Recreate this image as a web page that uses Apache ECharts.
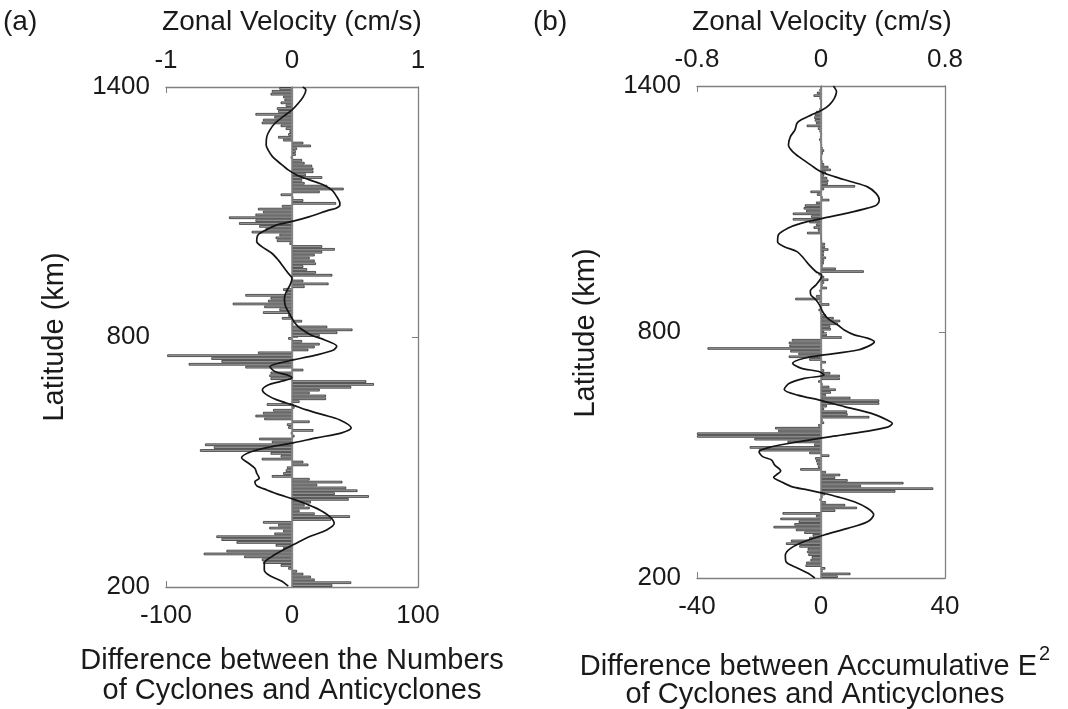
<!DOCTYPE html>
<html><head><meta charset="utf-8">
<script src="https://cdn.jsdelivr.net/npm/echarts@6/dist/echarts.min.js"></script>
<style>html,body{margin:0;padding:0;background:#fff}#c{width:1068px;height:709px}</style>
</head><body><div id="c"></div>
<script>
// ---------- DATA ----------
const latTicks = [200, 800, 1400];
// Panel (a): difference between numbers of cyclones and anticyclones, bins listed from 1400 km (top) down to 200 km
const barsA = [
  -10,-16,-17,-7,-6,-9,-5,-12,-11,-29,-14,-23,-24,-9,-5,-2,-3,-11,-7,9,15,4,3,3,-1,8,10,16,17,17,11,24,8,10,28,41,22,-9,1,9,35,-8,-27,
  -23,-29,-50,-29,-42,-26,-21,-32,-10,-13,-12,-2,24,34,24,18,14,18,19,9,12,19,32,0,9,29,10,-7,-4,-37,-17,-19,-47,-22,-10,-23,-3,-8,8,1,28,48,36,22,
  -3,8,22,18,13,-27,-99,-64,-56,-82,-37,9,-17,-18,-17,59,65,47,22,14,27,27,6,-20,2,-15,-23,-29,-22,14,-4,-3,17,-1,2,-26,-16,-69,-62,-73,-17,
  -9,-24,9,13,-4,-5,-7,-16,14,40,20,43,52,34,61,45,15,10,14,6,18,46,31,-23,-11,-18,-7,-14,-60,-56,-44,-13,-7,-52,-70,-38,-24,-23,-9,-3,4,9,15,18,47,32
];
// Panel (b): difference between accumulative E^2, bins from 1400 km (top) down to 200 km
const barsB = [
  0,-0.5,-1.3,-2.4,-0.5,0,0,0,-0.5,-1.6,-2,-2.2,-2,-1.6,-4.6,-1,-0.5,0,-0.3,-0.6,-0.3,0.3,0.5,1,0.6,0.2,0,0.5,1,2.4,3.2,1.6,1,2,2.4,2.2,11,1,-3.4,-1.3,0.5,2.7,-1.6,-5.2,-5.6,
  -4.8,-9.1,-3.2,-9.1,-3.8,-1.6,-2.4,-1,-4.5,0,0,0.3,1.3,1.3,2.4,1,0.9,1.6,1,0.9,0.5,4.8,13.8,-0.8,1,2.4,1,0.5,1.9,-0.5,-0.3,-1.6,-8.3,-0.5,2.7,-0.3,-0.8,-0.3,1.6,4.1,6.2,5.4,3,3.2,
  1,1.9,6.7,-9.4,-10.4,-10.2,-36.6,-9.9,-7.3,-10.4,-3.8,1.6,0,0.3,1,3,6.1,6.1,-0.9,0.5,2.7,4.8,3.2,1.6,9.5,18.8,18.8,1.9,1,8.4,8.6,15.6,0.5,1,-0.9,-14.8,-13.8,-40,-40,-21.5,-10.8,-2.2,-23,-20,-3.8,2.7,
  -1.9,-1.6,-1.3,-1,-6.7,1.6,6.2,4.6,8.6,26.6,12.9,36.2,24,1.3,0.5,-0.5,1.6,7.8,11.6,4.6,-12.4,-1.6,-13.1,-7.2,-8.6,-15.3,-8.1,-5.4,-2.7,-3.8,-9.7,-11.3,-7,-4.3,-4.5,-4.1,-3,-3.4,-4.8,-5,1.4,0.5,9.5,5.4
];
// Zonal velocity profiles (cm/s) at latitudes (km)
const velLatA = [1400,1393,1377,1361,1345,1329,1313,1297,1281,1261,1249,1233,1217,1201,1189,1177,1165,1153,1137,1121,1117,1109,1105,1089,1078,1069,1057,1045,1029,1017,1001,985,969,953,941,925,909,893,877,861,845,833,821,805,793,778,769,757,745,738,729,717,709,702,693,685,673,661,649,637,625,613,601,582,570,558,546,536,524,510,497,485,473,461,453,443,433,421,411,399,385,369,353,337,321,305,289,273,257,241,227,214,202];
const velA = [0.085,0.11,0.09,0.05,0.0,-0.07,-0.135,-0.175,-0.2,-0.205,-0.19,-0.155,-0.095,-0.03,0.037,0.14,0.25,0.315,0.355,0.38,0.38,0.35,0.3,0.14,0.01,-0.12,-0.205,-0.27,-0.28,-0.24,-0.16,-0.11,-0.07,-0.03,0.0,-0.015,-0.045,-0.06,-0.055,-0.03,0.0,0.025,0.065,0.15,0.26,0.355,0.33,0.195,0.01,-0.095,-0.175,-0.135,-0.04,0.0,-0.095,-0.19,-0.235,-0.2,-0.12,0.005,0.115,0.25,0.38,0.47,0.395,0.195,0.01,-0.175,-0.33,-0.4,-0.345,-0.295,-0.28,-0.26,-0.295,-0.28,-0.2,-0.095,0.01,0.115,0.22,0.3,0.335,0.275,0.14,0.035,-0.07,-0.16,-0.22,-0.22,-0.175,-0.08,-0.03];
const velLatB = [1400,1386,1370,1354,1342,1329,1317,1309,1293,1276,1256,1240,1224,1207,1191,1179,1167,1154,1138,1122,1110,1102,1090,1077,1065,1053,1037,1020,1008,996,980,963,947,939,931,915,900,890,878,866,850,833,817,805,793,785,776,768,756,744,736,724,712,703,695,687,675,660,646,634,618,602,585,577,568,557,545,532,520,508,496,488,476,461,451,446,435,423,415,407,398,386,370,354,337,321,305,289,273,256,240,224,212,200];
const velB = [0.08,0.10,0.086,0.054,0.01,-0.065,-0.13,-0.155,-0.168,-0.198,-0.21,-0.183,-0.13,-0.065,0,0.086,0.19,0.3,0.355,0.376,0.36,0.30,0.17,0.01,-0.13,-0.215,-0.275,-0.28,-0.237,-0.155,-0.112,-0.075,-0.032,0.004,0,-0.032,-0.069,-0.065,-0.032,-0.01,0.01,0.043,0.108,0.15,0.215,0.30,0.344,0.32,0.237,0.02,-0.108,-0.183,-0.13,-0.01,0.02,-0.108,-0.204,-0.237,-0.15,-0.01,0.15,0.32,0.43,0.46,0.43,0.28,0.065,-0.15,-0.32,-0.4,-0.376,-0.32,-0.30,-0.26,-0.29,-0.305,-0.258,-0.19,-0.086,0.01,0.108,0.215,0.30,0.34,0.30,0.172,0.02,-0.108,-0.194,-0.23,-0.226,-0.15,-0.086,-0.04];

// ---------- CHART ----------
const FONT = "'Liberation Sans', Arial, Helvetica, sans-serif";
const TXT = '#1a1a1a';
const AX = '#808080';
const binLabels = arr => arr.map((_, i) => (1400 - (i + 0.5) * 1200 / arr.length).toFixed(1));
const plain = v => String(v);

const tickStyle = {show: true, inside: true, length: 6, lineStyle: {color: AX, width: 1}};
const lineStyleAx = {show: true, lineStyle: {color: AX, width: 1.3}};
const lbl = (extra) => Object.assign({color: TXT, fontSize: 26, fontFamily: FONT, showMinLabel: true, showMaxLabel: true, formatter: plain}, extra);

function xAxes(g, bmin, bmax, bint, tmin, tmax, tint) {
  return [
    {gridIndex: g, type: 'value', position: 'bottom', min: bmin, max: bmax, interval: bint,
     axisLine: lineStyleAx, axisTick: tickStyle, splitLine: {show: false}, axisLabel: lbl({margin: 16})},
    {gridIndex: g, type: 'value', position: 'top', min: tmin, max: tmax, interval: tint,
     axisLine: lineStyleAx, axisTick: tickStyle, splitLine: {show: false}, axisLabel: lbl({margin: 13})}
  ];
}
function yAxes(g, bars) {
  return [
    {gridIndex: g, type: 'value', position: 'left', min: latTicks[0], max: latTicks[2], interval: latTicks[1] - latTicks[0],
     axisLine: lineStyleAx, axisTick: tickStyle, splitLine: {show: false}, axisLabel: lbl({margin: 16})},
    {gridIndex: g, type: 'category', data: binLabels(bars), inverse: true, show: false},
    {gridIndex: g, type: 'value', position: 'right', min: latTicks[0], max: latTicks[2], interval: latTicks[1] - latTicks[0],
     axisLine: lineStyleAx, axisTick: tickStyle, splitLine: {show: false}, axisLabel: {show: false}}
  ];
}
function barSeries(xi, yi, data) {
  return {type: 'bar', xAxisIndex: xi, yAxisIndex: yi, data: data, barCategoryGap: '12%',
    itemStyle: {color: '#a3a3a3', borderColor: '#1e1e1e', borderWidth: 0.7},
    emphasis: {disabled: true}, silent: true, clip: true,
    markLine: {silent: true, symbol: 'none', label: {show: false},
      lineStyle: {color: '#8a8a8a', width: 1.6, type: 'solid'}, data: [{xAxis: 0}]}};
}
function lineSeries(xi, yi, lats, vals) {
  return {type: 'line', xAxisIndex: xi, yAxisIndex: yi, data: vals.map((v, i) => [v, lats[i]]),
    showSymbol: false, smooth: 0.3, clip: true, silent: true, z: 5,
    lineStyle: {color: '#151515', width: 1.7}};
}
const tfont = (s) => s + 'px ' + FONT;
function text(x, y, s, size, extra) {
  return Object.assign({type: 'text', x: x, y: y, silent: true,
    style: {text: s, font: tfont(size), fill: TXT, align: 'center', verticalAlign: 'middle',
            textAlign: 'center', textVerticalAlign: 'middle'}}, extra || {});
}
function leftText(x, y, s, size) {
  return {type: 'text', x: x, y: y, silent: true,
    style: {text: s, font: tfont(size), fill: TXT, align: 'left', verticalAlign: 'middle', textAlign: 'left', textVerticalAlign: 'middle'}};
}

const option = {
  animation: false,
  backgroundColor: '#ffffff',
  grid: [
    {left: 166, top: 87, width: 252, height: 500, containLabel: false, outerBoundsMode: 'none'},
    {left: 697, top: 86, width: 248, height: 492, containLabel: false, outerBoundsMode: 'none'}
  ],
  xAxis: [].concat(xAxes(0, -100, 100, 100, -1, 1, 1), xAxes(1, -40, 40, 40, -0.8, 0.8, 0.8)),
  yAxis: [].concat(yAxes(0, barsA), yAxes(1, barsB)),
  series: [
    barSeries(0, 1, barsA),
    lineSeries(1, 0, velLatA, velA),
    barSeries(2, 4, barsB),
    lineSeries(3, 3, velLatB, velB)
  ],
  graphic: [
    leftText(3, 22, '(a)', 28),
    leftText(533, 22, '(b)', 28),
    text(292, 22, 'Zonal Velocity (cm/s)', 28),
    text(822, 22, 'Zonal Velocity (cm/s)', 28),
    text(55, 337, 'Latitude (km)', 29, {rotation: Math.PI / 2}),
    text(586, 333, 'Latitude (km)', 29, {rotation: Math.PI / 2}),
    text(292, 661, 'Difference between the Numbers', 29),
    text(292, 691, 'of Cyclones and Anticyclones', 29),
    {type: 'text', x: 815, y: 663, silent: true,
     style: {text: '{m|Difference between Accumulative E}{s|2}', align: 'center', verticalAlign: 'middle',
             textAlign: 'center', textVerticalAlign: 'middle', fill: TXT,
             rich: {m: {fontSize: 29, fontFamily: FONT, fill: TXT, color: TXT, verticalAlign: 'bottom'},
                    s: {fontSize: 20, fontFamily: FONT, fill: TXT, color: TXT, verticalAlign: 'bottom', padding: [0, 0, 17, 2]}}}},
    text(815, 695, 'of Cyclones and Anticyclones', 29)
  ]
};
const chart = echarts.init(document.getElementById('c'), null, {renderer: 'canvas'});
chart.setOption(option);
</script>
</body></html>
